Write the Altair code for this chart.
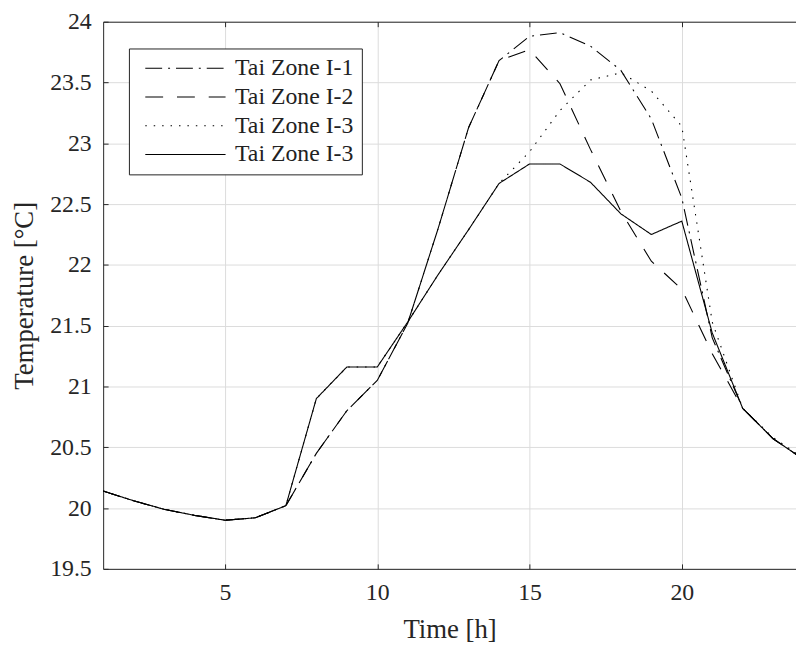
import json
import altair as alt
import pandas as pd

# ---- data ----
hours = list(range(1, 25))
zone_i1 = [20.14, 20.06, 19.99, 19.94, 19.90, 19.92, 20.02, 20.45, 20.80, 21.05, 21.52, 22.30,
           23.13, 23.68, 23.88, 23.91, 23.80, 23.60, 23.20, 22.55, 21.40, 20.82, 20.57, 20.40]
zone_i2 = [20.14, 20.06, 19.99, 19.94, 19.90, 19.92, 20.02, 20.45, 20.80, 21.05, 21.52, 22.30,
           23.13, 23.68, 23.77, 23.49, 22.95, 22.44, 22.03, 21.80, 21.27, 20.82, 20.57, 20.40]
zone_i3_dotted = [20.14, 20.06, 19.99, 19.94, 19.90, 19.92, 20.02, 20.90, 21.16, 21.16, 21.53, 21.92,
                  22.29, 22.67, 22.93, 23.27, 23.52, 23.58, 23.43, 23.14, 21.53, 20.82, 20.58, 20.41]
zone_i3_solid = [20.14, 20.06, 19.99, 19.94, 19.90, 19.92, 20.02, 20.90, 21.16, 21.16, 21.53, 21.92,
                 22.29, 22.67, 22.83, 22.83, 22.68, 22.42, 22.25, 22.36, 21.44, 20.82, 20.57, 20.40]

series_keys = ["s1", "s2", "s3", "s4"]
series_labels = ["Tai Zone I-1", "Tai Zone I-2", "Tai Zone I-3", "Tai Zone I-3"]
dash_patterns = [[17, 6, 2, 6], [18, 14], [1.5, 7], [1, 0]]
x_ticks = [5, 10, 15, 20]
y_ticks = [19.5, 20, 20.5, 21, 21.5, 22, 22.5, 23, 23.5, 24]

rows = []
for key, vals in zip(series_keys, [zone_i1, zone_i2, zone_i3_dotted, zone_i3_solid]):
    for h, v in zip(hours, vals):
        rows.append({"hour": h, "temp": v, "series": key})
df = pd.DataFrame(rows)

FONT = "Liberation Serif"
AXC = "#262626"
GRID = "#dcdcdc"

x_scale = alt.Scale(domain=[1, 23.75], nice=False, zero=False)
y_scale = alt.Scale(domain=[19.5, 24], nice=False, zero=False)

label_expr = "%s[indexof(%s, datum.value)]" % (json.dumps(series_labels), json.dumps(series_keys))

main = alt.Chart(df).mark_line(clip=True, strokeWidth=1.1, color="black").encode(
    x=alt.X("hour:Q", scale=x_scale,
            axis=alt.Axis(values=x_ticks, title="Time [h]", grid=True, gridColor=GRID,
                          ticks=False, domain=True, domainColor=AXC, labelPadding=12,
                          titlePadding=12)),
    y=alt.Y("temp:Q", scale=y_scale,
            axis=alt.Axis(values=y_ticks, format="~g", title="Temperature [°C]", grid=True,
                          gridColor=GRID, ticks=False, domain=True, domainColor=AXC,
                          labelPadding=12, titlePadding=11)),
    strokeDash=alt.StrokeDash(
        "series:N",
        scale=alt.Scale(domain=series_keys, range=dash_patterns),
        legend=alt.Legend(title=None, orient="none", legendX=26, legendY=27,
                          symbolType="M-4,0H4", symbolSize=410, symbolStrokeWidth=1.1,
                          symbolStrokeColor="black", symbolFillColor="transparent",
                          symbolOffset=37, labelFont=FONT, labelFontSize=24,
                          labelColor="#222", strokeColor="#222", fillColor="white",
                          padding=8, rowPadding=5, labelOffset=38, labelExpr=label_expr),
    ),
)

tick_in = alt.Chart(df).mark_line(opacity=0).encode(
    x=alt.X("hour:Q", scale=x_scale,
            axis=alt.Axis(values=x_ticks, orient="bottom", offset=-5, tickSize=5, ticks=True,
                          tickColor=AXC, labels=False, domain=False, grid=False, title=None)),
    y=alt.Y("temp:Q", scale=y_scale,
            axis=alt.Axis(values=y_ticks, orient="left", offset=-5, tickSize=5, ticks=True,
                          tickColor=AXC, labels=False, domain=False, grid=False, title=None)),
    detail="series:N",
)

top_ticks = alt.Chart(df).mark_line(opacity=0).encode(
    x=alt.X("hour:Q", scale=x_scale,
            axis=alt.Axis(values=x_ticks, orient="top", offset=-5, tickSize=5, ticks=True,
                          tickColor=AXC, labels=False, domain=False, grid=False, title=None)),
    y=alt.Y("temp:Q", scale=y_scale, axis=None),
    detail="series:N",
)

top_border = alt.Chart(df).mark_line(opacity=0).encode(
    x=alt.X("hour:Q", scale=x_scale,
            axis=alt.Axis(values=x_ticks, orient="top", ticks=False, labels=False,
                          domain=True, domainColor=AXC, grid=False, title=None)),
    y=alt.Y("temp:Q", scale=y_scale, axis=None),
    detail="series:N",
)

chart = alt.layer(main, tick_in, top_ticks, top_border).resolve_axis(
    x="independent", y="independent"
).properties(
    width=699, height=552,
    autosize=alt.AutoSizeParams(type="none"),
    padding={"left": 96, "top": 11, "right": 0, "bottom": 77},
).configure_view(stroke=None).configure_axis(
    labelFont=FONT, labelFontSize=24, labelColor=AXC,
    titleFont=FONT, titleFontSize=27, titleFontWeight="normal", titleColor=AXC,
)

chart.save("out.html", embed_options={"renderer": "svg", "actions": False})
